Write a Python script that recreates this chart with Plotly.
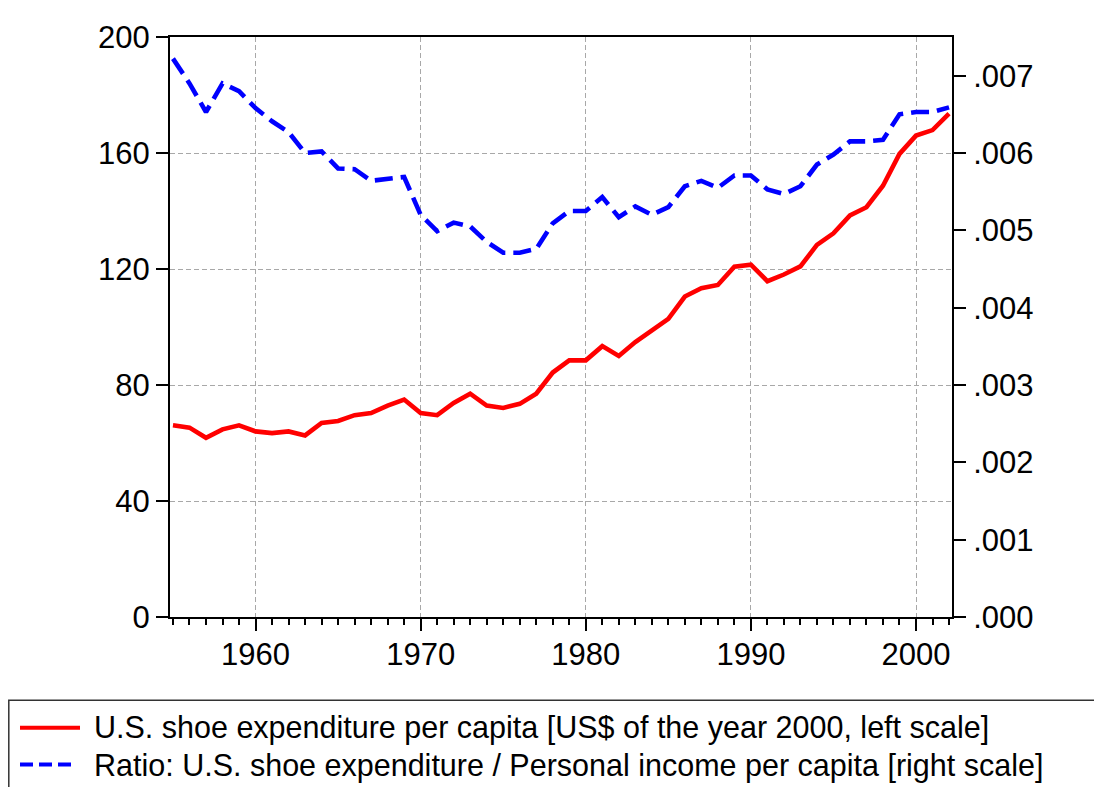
import plotly.graph_objects as go

years = list(range(1955, 2003))

shoe_expenditure = [66.1, 65.3, 61.8, 64.7, 66.1, 64.0, 63.4, 64.0, 62.6, 66.9,
                    67.6, 69.6, 70.3, 72.9, 75.0, 70.3, 69.6, 73.8, 77.0, 72.9,
                    72.1, 73.5, 77.0, 84.3, 88.5, 88.5, 93.4, 90.0, 94.8, 99.0,
                    102.8, 110.5, 113.4, 114.5, 120.8, 121.5, 115.8, 118.1, 120.9, 128.3,
                    132.3, 138.5, 141.3, 148.7, 159.7, 166.0, 167.9, 173.6]

ratio = [0.00722, 0.00690, 0.00653, 0.00690, 0.00680, 0.00658, 0.00641, 0.00627, 0.00600, 0.00602,
         0.00580, 0.00579, 0.00564, 0.00567, 0.00569, 0.00520, 0.00499, 0.00510, 0.00505, 0.00485,
         0.00471, 0.00471, 0.00476, 0.00509, 0.00525, 0.00525, 0.00543, 0.00517, 0.00531, 0.00520,
         0.00530, 0.00557, 0.00564, 0.00555, 0.00571, 0.00571, 0.00553, 0.00547, 0.00557, 0.00585,
         0.00598, 0.00615, 0.00615, 0.00617, 0.00650, 0.00653, 0.00653, 0.00659]

left_ticks = [0, 40, 80, 120, 160, 200]
right_ticks = [0.000, 0.001, 0.002, 0.003, 0.004, 0.005, 0.006, 0.007]
right_ticktext = [".000", ".001", ".002", ".003", ".004", ".005", ".006", ".007"]
x_ticks = [1960, 1970, 1980, 1990, 2000]

legend_labels = [
    "U.S. shoe expenditure per capita [US$ of the year 2000, left scale]",
    "Ratio: U.S. shoe expenditure / Personal income per capita [right scale]",
]

FONT = "Liberation Sans, Arial, sans-serif"
FS = 31
# page has an 8px body margin; figure sized/positioned to fill the window
OFF = 8
W, H = 1102 - OFF, 787 - OFF
L, R, T, B = 170 - OFF, 952 - OFF, 31 - OFF, 617 - OFF

fig = go.Figure()
fig.add_trace(go.Scatter(x=years, y=shoe_expenditure, mode="lines",
                         line=dict(color="#FF0000", width=4.6), name=legend_labels[0],
                         yaxis="y"))
fig.add_trace(go.Scatter(x=years, y=ratio, mode="lines",
                         line=dict(color="#0000FF", width=4.6, dash="18px,8px"),
                         name=legend_labels[1], yaxis="y2"))

fig.update_layout(
    width=W, height=H,
    margin=dict(l=L, r=W - R, t=T, b=H - B),
    paper_bgcolor="white", plot_bgcolor="white",
    showlegend=False,
    font=dict(family=FONT, size=FS, color="black"),
    xaxis=dict(range=[1954.82, 2002.18], tickvals=x_ticks, ticks="outside", ticklen=12,
               tickwidth=2, tickcolor="black", showline=True, linecolor="black",
               linewidth=2, mirror=True, showgrid=True, gridcolor="#a8a8a8",
               gridwidth=1, griddash="5px,3px", zeroline=False,
               minor=dict(dtick=1, tick0=1955, ticks="outside", ticklen=6,
                          tickwidth=1.5, tickcolor="black", showgrid=False),
               tickfont=dict(family=FONT, size=FS), ticklabelstandoff=-3),
    yaxis=dict(range=[0, 200], tickvals=left_ticks, ticks="outside", ticklen=12,
               tickwidth=2, tickcolor="black", showline=True, linecolor="black",
               linewidth=2, showgrid=True, gridcolor="#a8a8a8", gridwidth=1,
               griddash="5px,3px", zeroline=False,
               tickfont=dict(family=FONT, size=FS), ticklabelstandoff=0),
    yaxis2=dict(range=[0, 0.0075], tickvals=right_ticks, ticktext=right_ticktext,
                overlaying="y", side="right", ticks="outside", ticklen=12,
                tickwidth=2, tickcolor="black", showline=True, linecolor="black",
                linewidth=2, showgrid=False, zeroline=False,
                tickfont=dict(family=FONT, size=FS), ticklabelstandoff=1),
)

def px_x(p):
    return (p - OFF - L) / (R - L)

def px_y(p):
    return (B - (p - OFF)) / (B - T)

# legend box (page-pixel coordinates)
fig.add_shape(type="rect", xref="paper", yref="paper",
              x0=px_x(8.8), x1=px_x(1130), y0=px_y(701), y1=px_y(820),
              line=dict(color="#333333", width=1.5), fillcolor="rgba(0,0,0,0)")
# legend samples
fig.add_shape(type="line", xref="paper", yref="paper",
              x0=px_x(20), x1=px_x(80), y0=px_y(729), y1=px_y(729),
              line=dict(color="#FF0000", width=4))
fig.add_shape(type="line", xref="paper", yref="paper",
              x0=px_x(20), x1=px_x(74), y0=px_y(766), y1=px_y(766),
              line=dict(color="#0000FF", width=4, dash="13px,6px"))
for label, ypix in zip(legend_labels, [729, 767]):
    fig.add_annotation(xref="paper", yref="paper", x=px_x(92), y=px_y(ypix),
                       xanchor="left", yanchor="middle", showarrow=False,
                       text=label, font=dict(family=FONT, size=30.5, color="black"))

fig.write_html("out.html")
